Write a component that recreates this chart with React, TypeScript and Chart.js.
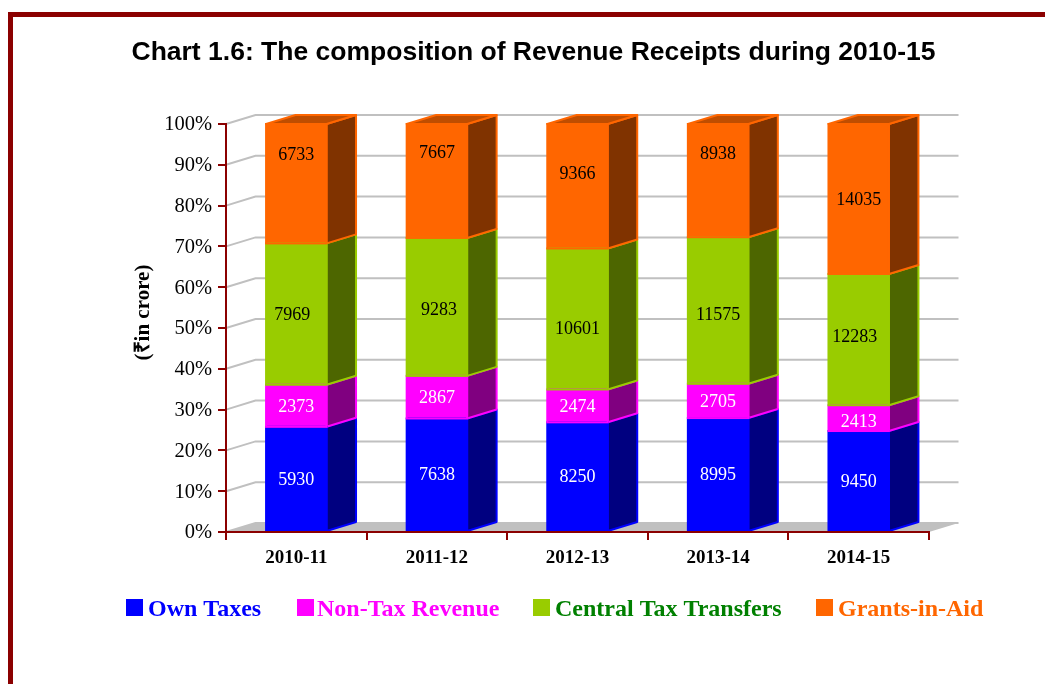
import React, { useEffect, useRef } from "react";
import { Chart, registerables } from "chart.js";

Chart.register(...registerables);

const categories = ["2010-11", "2011-12", "2012-13", "2013-14", "2014-15"];
const ownTaxes = [5930, 7638, 8250, 8995, 9450];
const nonTaxRevenue = [2373, 2867, 2474, 2705, 2413];
const centralTaxTransfers = [7969, 9283, 10601, 11575, 12283];
const grantsInAid = [6733, 7667, 9366, 8938, 14035];
const seriesNames = ["Own Taxes", "Non-Tax Revenue", "Central Tax Transfers", "Grants-in-Aid"];
const titleText = "Chart 1.6: The composition of Revenue Receipts during 2010-15";
const yAxisTitle = "(₹in crore)";

const rawSeries = [ownTaxes, nonTaxRevenue, centralTaxTransfers, grantsInAid];
const totals = categories.map((_, i) => rawSeries.reduce((s, a) => s + a[i], 0));
const sharePct = (a: number[]) => a.map((v, i) => (v / totals[i]) * 100);

const frontColors = ["#0000FF", "#FF00FF", "#99CC00", "#FF6600"];
const sideColors = ["#000080", "#800080", "#4D6600", "#803300"];
const topColor = "#BF4D00";
const labelColors = ["#FFFFFF", "#FFFFFF", "#000000", "#000000"];
const legendColors = ["#0000FF", "#FF00FF", "#008000", "#FF6600"];
const legendBoxX = [126, 297, 533, 816];
const legendTextX = [148, 317, 555, 838];
const AXIS = "#8B0000";
const GRID = "#C0C0C0";
const DX = 29.5;
const DY = 9;
const SERIF = '"Liberation Serif", serif';

// manual nudges of the value labels, as in the source chart [series][category]
const labelShiftY = [
  [1, 1, 1, 1, 1],
  [1, 1, 1, 1, 4],
  [1, 3, 10, 5, -2],
  [-28, -28, -12, -26, 1],
];
const labelShiftX = [
  [0, 0, 0, 0, 0],
  [0, 0, 0, 0, 0],
  [-4, 2, 0, 0, -4],
  [0, 0, 0, 0, 0],
];

const depthPlugin = {
  id: "depth3d",
  beforeDraw(chart: any) {
    const { ctx, width, height } = chart;
    ctx.save();
    ctx.fillStyle = "#FFFFFF";
    ctx.fillRect(0, 0, width, height);
    ctx.fillStyle = AXIS;
    ctx.fillRect(8, 12, width, 5);
    ctx.fillRect(8, 12, 5, height);
    ctx.restore();
  },
  beforeDatasetsDraw(chart: any) {
    const { ctx, chartArea, scales } = chart;
    const { left, right, bottom } = chartArea;
    ctx.save();
    ctx.fillStyle = GRID;
    ctx.beginPath();
    ctx.moveTo(left, bottom);
    ctx.lineTo(right, bottom);
    ctx.lineTo(right + DX, bottom - DY);
    ctx.lineTo(left + DX, bottom - DY);
    ctx.closePath();
    ctx.fill();
    ctx.strokeStyle = GRID;
    ctx.lineWidth = 2;
    for (const t of scales.y.ticks) {
      const y = scales.y.getPixelForValue(t.value);
      ctx.beginPath();
      ctx.moveTo(left, y);
      ctx.lineTo(left + DX, y - DY);
      ctx.lineTo(right + DX, y - DY);
      ctx.stroke();
    }
    ctx.lineJoin = "round";
    const metas = chart.data.datasets.map((_: any, i: number) => chart.getDatasetMeta(i));
    categories.forEach((_, c) => {
      metas.forEach((meta: any, s: number) => {
        const bar = meta.data[c];
        const xr = bar.x + bar.width / 2;
        ctx.fillStyle = sideColors[s];
        ctx.strokeStyle = frontColors[s];
        ctx.beginPath();
        ctx.moveTo(xr, bar.base);
        ctx.lineTo(xr + DX, bar.base - DY);
        ctx.lineTo(xr + DX, bar.y - DY);
        ctx.lineTo(xr, bar.y);
        ctx.closePath();
        ctx.fill();
        ctx.stroke();
      });
      const topBar = metas[metas.length - 1].data[c];
      const xl = topBar.x - topBar.width / 2;
      const xr = topBar.x + topBar.width / 2;
      ctx.fillStyle = topColor;
      ctx.strokeStyle = frontColors[3];
      ctx.beginPath();
      ctx.moveTo(xl, topBar.y);
      ctx.lineTo(xr, topBar.y);
      ctx.lineTo(xr + DX, topBar.y - DY);
      ctx.lineTo(xl + DX, topBar.y - DY);
      ctx.closePath();
      ctx.fill();
      ctx.stroke();
    });
    ctx.restore();
  },
  afterDatasetsDraw(chart: any) {
    const { ctx, scales } = chart;
    ctx.save();
    ctx.lineWidth = 2;
    const metas = chart.data.datasets.map((_: any, i: number) => chart.getDatasetMeta(i));
    metas.forEach((meta: any, s: number) => {
      meta.data.forEach((bar: any) => {
        ctx.strokeStyle = frontColors[s];
        ctx.strokeRect(bar.x - bar.width / 2, bar.y, bar.width, bar.base - bar.y);
      });
    });
    ctx.font = `18px ${SERIF}`;
    ctx.textAlign = "center";
    ctx.textBaseline = "middle";
    metas.forEach((meta: any, s: number) => {
      meta.data.forEach((bar: any, c: number) => {
        ctx.fillStyle = labelColors[s];
        ctx.fillText(
          String(rawSeries[s][c]),
          bar.x + labelShiftX[s][c],
          (bar.y + bar.base) / 2 + labelShiftY[s][c]
        );
      });
    });
    // chart title
    ctx.font = 'bold 26.5px "Liberation Sans", sans-serif';
    ctx.fillStyle = "#000000";
    ctx.fillText(titleText, 533.5, 53);
    // y tick labels, from the library's own ticks
    ctx.font = `20.5px ${SERIF}`;
    ctx.textAlign = "right";
    for (const t of scales.y.ticks) {
      ctx.fillText(t.label, 212, scales.y.getPixelForValue(t.value) + 1);
    }
    // rotated axis title
    ctx.save();
    ctx.translate(144, 312.5);
    ctx.rotate(-Math.PI / 2);
    ctx.textAlign = "center";
    ctx.font = `bold 21px ${SERIF}`;
    ctx.fillText(yAxisTitle, 0, 0);
    ctx.restore();
    // legend
    ctx.font = `bold 24px ${SERIF}`;
    ctx.textAlign = "left";
    seriesNames.forEach((name, s) => {
      ctx.fillStyle = frontColors[s];
      ctx.fillRect(legendBoxX[s], 599, 17, 17);
      ctx.fillStyle = legendColors[s];
      ctx.fillText(name, legendTextX[s], 610);
    });
    ctx.restore();
  },
};

export default function App() {
  const ref = useRef<HTMLCanvasElement>(null);
  useEffect(() => {
    if (!ref.current) return;
    const chart = new Chart(ref.current, {
      type: "bar",
      data: {
        labels: categories,
        datasets: rawSeries.map((a, s) => ({
          label: seriesNames[s],
          data: sharePct(a),
          backgroundColor: frontColors[s],
          borderWidth: 0,
          barPercentage: 0.43,
          categoryPercentage: 1,
        })),
      },
      options: {
        responsive: false,
        animation: false,
        layout: { padding: { left: 137, right: 116, top: 124, bottom: 52 } },
        plugins: {
          legend: { display: false },
          tooltip: { enabled: false },
          title: { display: false },
        },
        scales: {
          x: {
            stacked: true,
            offset: true,
            afterFit: (s: any) => { s.height = 100; },
            grid: { offset: true, drawOnChartArea: false, drawTicks: true, tickLength: 8, tickColor: AXIS, lineWidth: 2, tickWidth: 2, z: 1 },
            border: { color: AXIS, width: 2, z: 1 },
            ticks: { color: "#000000", font: { family: SERIF, size: 19, weight: "bold" }, padding: 7, maxRotation: 0 },
          },
          y: {
            stacked: true,
            min: 0,
            max: 100,
            afterFit: (s: any) => { s.width = 89; },
            grid: { drawOnChartArea: false, drawTicks: true, tickLength: 8, tickColor: AXIS, lineWidth: 2, tickWidth: 2, z: 1 },
            border: { color: AXIS, width: 2, z: 1 },
            ticks: {
              stepSize: 10,
              display: false,
              callback: (v: any) => `${v}%`,
            },
          },
        },
      },
      plugins: [depthPlugin],
    } as any);
    return () => chart.destroy();
  }, []);
  return (
    <canvas
      ref={ref}
      width={1045}
      height={684}
      style={{ position: "fixed", left: 0, top: 0, width: 1045, height: 684 }}
    />
  );
}
